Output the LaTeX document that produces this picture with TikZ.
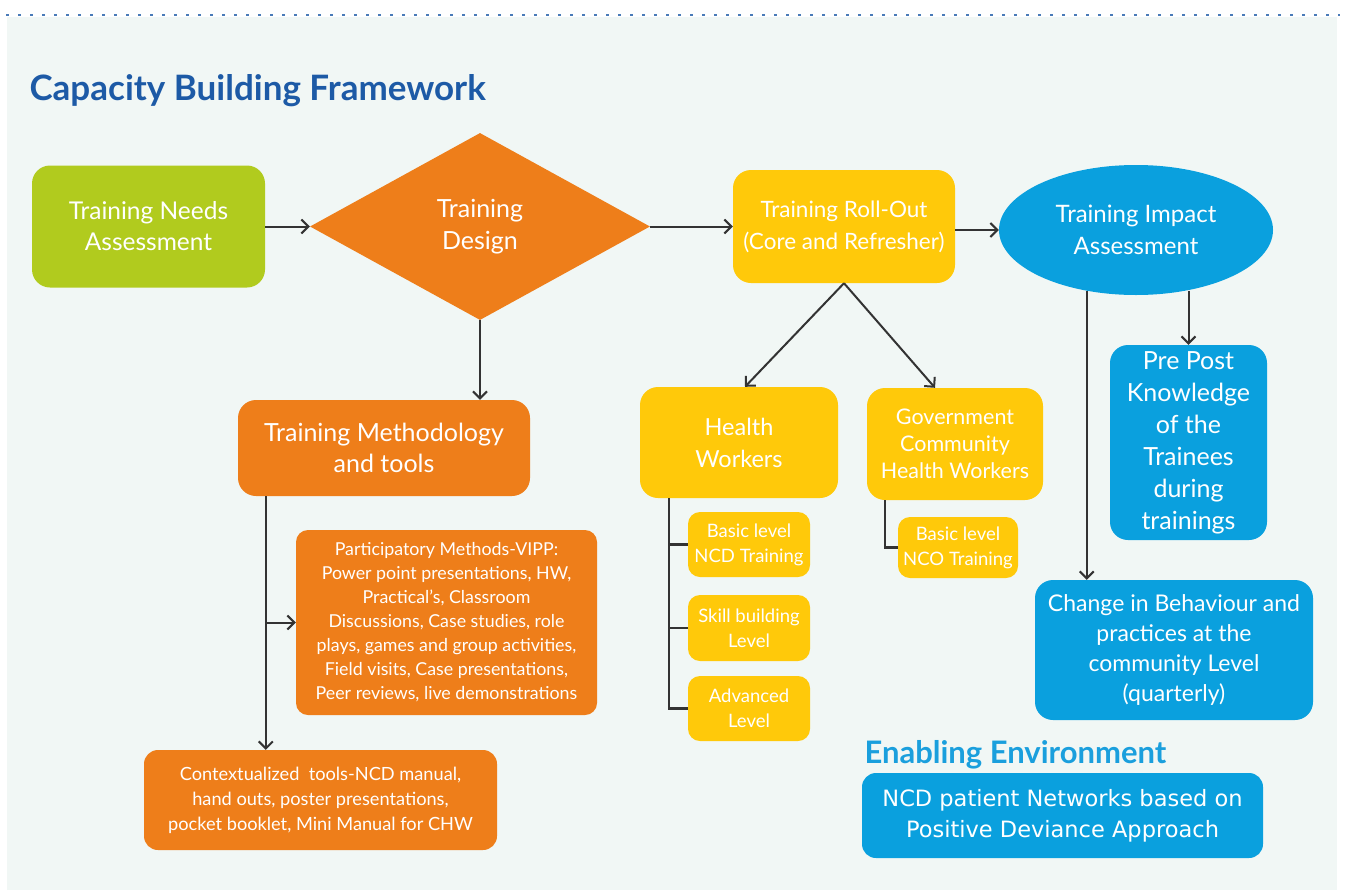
\documentclass[tikz,border=0pt]{standalone}
\usepackage{fontspec}
\setmainfont{Lato}
\newfontfamily\dejavu{DejaVu Sans}
\usetikzlibrary{arrows.meta,shapes.geometric}
\definecolor{bgc}{HTML}{F1F7F5}
\definecolor{cgreen}{HTML}{B1CB1E}
\definecolor{corange}{HTML}{EE7E1A}
\definecolor{cyellow}{HTML}{FFC90A}
\definecolor{cblue}{HTML}{0AA0DE}
\definecolor{ctitle}{HTML}{1D5AA6}
\definecolor{cenv}{HTML}{1A9FDD}
\definecolor{cline}{HTML}{333333}
\newcommand\fsz[2]{\fontsize{#1}{#2}\selectfont}
\tikzset{
  box/.style={rectangle, rounded corners=18pt, text=white, align=center, inner sep=0pt},
  smallbox/.style={box, rounded corners=12pt, fill=cyellow, minimum width=122pt, font=\fsz{18.5}{25}},
  arr/.style={draw=cline, line width=2pt, -{Straight Barb[length=7pt,width=14pt,line width=2pt]}},
  ln/.style={draw=cline, line width=2.4pt},
}
\begin{document}
\begin{tikzpicture}[x=1pt,y=-1pt]
\useasboundingbox (0,0) rectangle (1352,894);
\fill[bgc] (7,17) rectangle (1337,890);
\draw[ctitle!80, line width=2.5pt, dash pattern=on 3pt off 9pt] (6,15) -- (1340,15);

\node[anchor=base west, text=ctitle, font=\bfseries\fsz{35}{40}] (title) at (26,100) {Capacity Building Framework};

\node[box, fill=cgreen, minimum width=233pt, minimum height=122pt, font=\fsz{24.5}{31}] (tna) at (148.5,226.5) {Training Needs\\Assessment};
\node[diamond, fill=corange, text=white, align=center, inner sep=0pt, minimum width=340pt, minimum height=187pt, font=\fsz{25}{32}] (design) at (480,226.5) {Training\\Design};
\node[box, fill=cyellow, minimum width=222pt, minimum height=113pt, font=\fsz{22.5}{32}] (roll) at (844,226.5) {Training Roll-Out\\(Core and Refresher)};
\node[ellipse, fill=cblue, text=white, align=center, inner sep=0pt, minimum width=274pt, minimum height=130pt, font=\fsz{24}{32}] (impact) at (1136,230) {Training Impact\\Assessment};

\node[box, fill=corange, minimum width=292pt, minimum height=96pt, font=\fsz{25}{31}] (meth) at (384,448) {Training Methodology\\and tools};
\node[box, rounded corners=12pt, fill=corange, minimum width=301pt, minimum height=185pt, font=\fsz{17.8}{24}] (part) at (446.5,622.5) {Participatory Methods-VIPP:\\Power point presentations, HW,\\Practical's, Classroom\\Discussions, Case studies, role\\plays, games and group activities,\\Field visits, Case presentations,\\Peer reviews, live demonstrations};
\node[box, rounded corners=14pt, fill=corange, minimum width=353pt, minimum height=100pt, font=\fsz{18.2}{25}] (context) at (320.5,800) {Contextualized\ \ tools-NCD manual,\\hand outs, poster presentations,\\pocket booklet, Mini Manual for CHW};

\node[box, fill=cyellow, minimum width=198pt, minimum height=111pt, font=\fsz{23.5}{32}] (hw) at (739,442.5) {Health\\Workers};
\node[box, fill=cyellow, minimum width=176pt, minimum height=112pt, font=\fsz{21.5}{27}] (gov) at (955,444) {Government\\Community\\Health Workers};
\node[smallbox, minimum height=65pt] (b1) at (749,544.5) {Basic level\\NCD Training};
\node[smallbox, minimum height=66pt] (b2) at (749,628) {Skill building\\Level};
\node[smallbox, minimum height=65pt] (b3) at (749,708.5) {Advanced\\Level};
\node[smallbox, minimum width=120pt, minimum height=61pt] (g1) at (958,547.5) {Basic level\\NCO Training};

\node[box, fill=cblue, minimum width=157pt, minimum height=195pt, font=\fsz{25}{32}] (pre) at (1188.5,442.5) {Pre Post\\Knowledge\\of the\\Trainees\\during\\trainings};
\node[box, fill=cblue, minimum width=278pt, minimum height=140pt, font=\fsz{23}{30}] (change) at (1174,650) {Change in Behaviour and\\practices at the\\community Level\\(quarterly)};

\node[anchor=base west, text=cenv, font=\bfseries\fsz{31}{36}] (envt) at (861,763) {Enabling Environment};
\node[box, rounded corners=14pt, fill=cblue, minimum width=401pt, minimum height=85pt, font=\dejavu\fsz{22.5}{31}] (env) at (1062.5,815.5) {NCD patient Networks based on\\Positive Deviance Approach};

% connectors
\draw[arr] (tna.east) -- (design.west);
\draw[arr] (design.south) -- (design.south |- meth.north);
\draw[arr] (design.east) -- (roll.west);
\draw[arr] (roll.east |- impact.west) -- (impact.west);
\draw[arr] (roll.south) -- ([xshift=6pt]hw.north);
\draw[arr] (roll.south) -- ([xshift=-20pt]gov.north);
\draw[arr] (pre.north |- impact.-50) -- (pre.north);
\draw[arr] (impact.-129) -- (impact.-129 |- change.north);

\draw[arr] ([xshift=28pt]meth.south west) -- ([xshift=28pt]meth.south west |- context.north);
\draw[arr] ([xshift=28pt]meth.south west |- part.west) -- (part.west);

\draw[ln] ([xshift=29pt]hw.south west) |- (b3.west);
\draw[ln] ([xshift=29pt]hw.south west |- b1.west) -- (b1.west);
\draw[ln] ([xshift=29pt]hw.south west |- b2.west) -- (b2.west);
\draw[ln] ([xshift=18pt]gov.south west) |- (g1.west);
\end{tikzpicture}
\end{document}
